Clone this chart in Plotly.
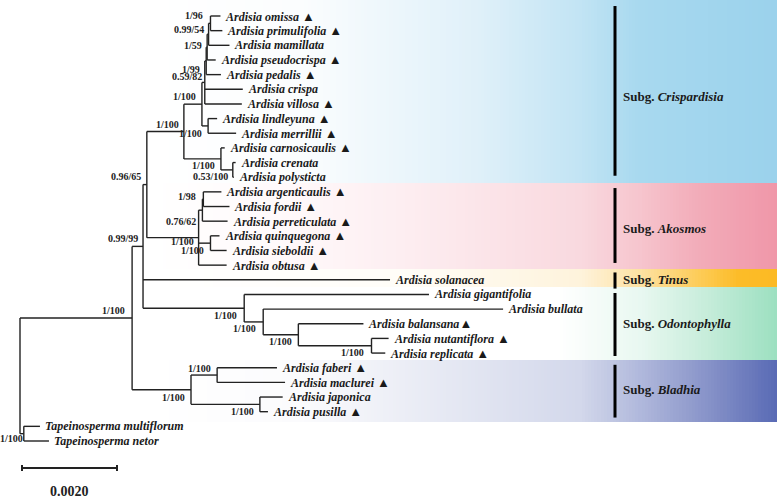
import numpy as np
import plotly.graph_objects as go

# Tips, top to bottom
tip_names = [
    "Ardisia omissa", "Ardisia primulifolia", "Ardisia mamillata", "Ardisia pseudocrispa",
    "Ardisia pedalis", "Ardisia crispa", "Ardisia villosa", "Ardisia lindleyuna",
    "Ardisia merrillii", "Ardisia carnosicaulis", "Ardisia crenata", "Ardisia polysticta",
    "Ardisia argenticaulis", "Ardisia fordii", "Ardisia perreticulata", "Ardisia quinquegona",
    "Ardisia sieboldii", "Ardisia obtusa", "Ardisia solanacea", "Ardisia gigantifolia",
    "Ardisia bullata", "Ardisia balansana", "Ardisia nutantiflora", "Ardisia replicata",
    "Ardisia faberi", "Ardisia maclurei", "Ardisia japonica", "Ardisia pusilla",
    "Tapeinosperma multiflorum", "Tapeinosperma netor",
]
tip_marked = [1, 1, 0, 1, 1, 0, 1, 1, 1, 1, 0, 0, 1, 1, 1, 1, 1, 1, 0, 0, 0, 1, 1, 1, 1, 1, 0, 1, 0, 0]

# Tree edges: child, parent, branch length (substitutions/site)
edge_child = ["tap", "multiflorum", "netor", "ard", "A", "C", "crisp", "D", "E", "M", "N3", "N2", "N1",
              "omissa", "primulifolia", "mamillata", "pseudocrispa", "pedalis", "crispa", "villosa",
              "F", "lindleyuna", "merrillii", "G", "carnosicaulis", "H", "crenata", "polysticta",
              "K", "Q", "P", "argenticaulis", "fordii", "perreticulata", "R", "quinquegona", "sieboldii",
              "obtusa", "solanacea", "O", "gigantifolia", "S", "bullata", "T", "balansana", "U",
              "nutantiflora", "replicata", "B", "V", "faberi", "maclurei", "W", "japonica", "pusilla"]
edge_parent = ["root", "tap", "tap", "root", "ard", "A", "C", "crisp", "D", "E", "M", "N3", "N2",
               "N1", "N1", "N2", "N3", "M", "E", "E",
               "D", "F", "F", "crisp", "G", "G", "H", "H",
               "C", "K", "Q", "P", "P", "Q", "K", "R", "R",
               "K", "A", "A", "O", "O", "S", "S", "T", "T",
               "U", "U", "ard", "B", "V", "V", "B", "W", "W"]
edge_length = [0.00008, 0.00034, 0.00053, 0.00236, 0.00023, 0.00008, 0.00078, 0.00038, 0.00006, 0.00003,
               0.00002, 0.00003, 0.00004, 0.00021, 0.00025, 0.00044, 0.00018, 0.00031, 0.00080, 0.00078,
               0.00013, 0.00019, 0.00059, 0.00078, 0.00008, 0.00025, 0.00006, 0.00002,
               0.00109, 0.00008, 0.00002, 0.00038, 0.00055, 0.00053, 0.00025, 0.00019, 0.00034,
               0.00059, 0.00520, 0.00213, 0.00389, 0.00040, 0.00505, 0.00074, 0.00137, 0.00154,
               0.00036, 0.00029, 0.00124, 0.00055, 0.00126, 0.00143, 0.00145, 0.00048, 0.00017]

# Support values (posterior / bootstrap)
support_node = ["N1", "N2", "N3", "M", "E", "crisp", "D", "F", "G", "H", "C", "A", "ard", "tap",
                "P", "Q", "K", "R", "O", "S", "T", "U", "B", "V", "W"]
support_text = ["1/96", "0.99/54", "1/59", "1/99", "0.59/82", "1/100", "1/100", "1/100", "1/100",
                "0.53/100", "0.96/65", "0.99/99", "1/100", "1/100", "1/98", "0.76/62", "1/100",
                "1/100", "1/100", "1/100", "1/100", "1/100", "1/100", "1/100", "1/100"]

clade_names = ["Crispardisia", "Akosmos", "Tinus", "Odontophylla", "Bladhia"]
clade_first = [0, 12, 18, 19, 24]
clade_last = [11, 17, 18, 23, 27]
scale_length = 0.0020

# ---- layout helpers (pixel <-> data)
PX = 0.0020 / 95.0      # substitutions per screen pixel
ROW = 14.655            # pixels per tip row
def px_x(p):
    return (p - 20) * PX
def px_y(p):
    return (p - 16) / ROW

# ---- compute node positions
children = {}
for c, p in zip(edge_child, edge_parent):
    children.setdefault(p, []).append(c)
blen = dict(zip(edge_child, edge_length))

depth = {"root": 0.0}
def set_depth(n):
    for c in children.get(n, []):
        depth[c] = depth[n] + blen[c]
        set_depth(c)
set_depth("root")

tip_ids = [n.split()[-1] for n in tip_names]
ypos = {t: i for i, t in enumerate(tip_ids)}
def set_y(n):
    if n in ypos:
        return ypos[n]
    ys = [set_y(c) for c in children[n]]
    ypos[n] = (min(ys) + max(ys)) / 2
    return ypos[n]
set_y("root")

fig = go.Figure()

# ---- background gradient bands
band_y = [(px_y(0), px_y(183)), (px_y(183), px_y(269)), (px_y(269), px_y(287)),
          (px_y(287), px_y(360)), (px_y(360), px_y(422))]
band_scales = [
    [[0, "#ffffff"], [0.24, "#fbfdfe"], [0.526, "#dff0f9"], [0.686, "#c2e4f4"], [0.78, "#a8d9ef"], [1, "#9bd2ec"]],
    [[0, "#ffffff"], [0.2, "#fffafb"], [0.4, "#fdeef1"], [0.686, "#f9d9df"], [0.781, "#f6c5ce"],
     [0.877, "#f2acb9"], [1, "#f097a9"]],
    [[0, "#ffffff"], [0.4, "#fffdf8"], [0.686, "#fef3dc"], [0.781, "#fde2a4"], [0.877, "#fdcc58"],
     [0.941, "#fcbc28"], [1, "#fcba24"]],
    [[0, "#ffffff"], [0.65, "#ffffff"], [0.781, "#e9f8f1"], [0.877, "#cbeedd"], [1, "#9de0c1"]],
    [[0, "#ffffff"], [0.24, "#fbfbfd"], [0.4, "#eceef6"], [0.686, "#d3d8eb"], [0.781, "#b1b9dc"],
     [0.877, "#8d98cb"], [1, "#5a6bb5"]],
]
xe = np.linspace(px_x(150), px_x(777), 200)
zrow = np.linspace(0, 1, 199)[None, :]
for (y0, y1), cs in zip(band_y, band_scales):
    fig.add_trace(go.Heatmap(x=xe, y=[y0, y1], z=zrow, colorscale=cs, zmin=0, zmax=1,
                             showscale=False, hoverinfo="skip"))

# ---- tree branches
lx, ly = [], []
for c, p in zip(edge_child, edge_parent):
    lx += [depth[p], depth[c], None]
    ly += [ypos[c], ypos[c], None]
for n, ch in children.items():
    ys = [ypos[c] for c in ch]
    lx += [depth[n], depth[n], None]
    ly += [min(ys), max(ys), None]
fig.add_trace(go.Scatter(x=lx, y=ly, mode="lines", line=dict(color="#222222", width=1.4),
                         hoverinfo="skip", showlegend=False))

# ---- tip labels
for t, name, mk in zip(tip_ids, tip_names, tip_marked):
    txt = "<b><i>%s</i></b>" % name
    if mk:
        sep = "" if t == "balansana" else " "
        txt += sep + "<span style='font-size:13px'>▲</span>"
    fig.add_annotation(x=depth[t], y=ypos[t], text=txt, showarrow=False, xanchor="left",
                       yanchor="middle", xshift=3, font=dict(family="Liberation Serif", size=12,
                                                             color="#1a1a1a"))

# ---- support labels (offset in pixels from node)
support_offset = {"N1": (-5, -7.5), "N2": (-3, -5), "N3": (-3.5, -2), "M": (-4.5, 9), "E": (-1, -5.5),
                  "crisp": (-3, -7.5), "D": (-4, -8), "F": (-4, 8), "G": (-4, 7), "H": (-3, 7),
                  "C": (-4, -8), "A": (-3, -8), "ard": (-5, -7.5), "tap": (1, 4.5),
                  "P": (-5, -2.5), "Q": (-4, 11), "K": (-3, 3.5), "R": (-4, 7.5), "O": (-5, 7),
                  "S": (-5, 6.5), "T": (-4, 7), "U": (-6, 6.5), "B": (-4, 8), "V": (-4, -6.5),
                  "W": (-4, 7.5)}
for n, s in zip(support_node, support_text):
    dx, dy = support_offset[n]
    fig.add_annotation(x=depth[n], y=ypos[n], text="<b>%s</b>" % s, showarrow=False,
                       xanchor="right", yanchor="middle", xshift=dx, yshift=-dy,
                       font=dict(family="Liberation Serif", size=10, color="#222222"))

# ---- subgenus bars and labels
bar_rows = [(-0.68, 10.9), (11.74, 16.85), (17.5, 18.6), (18.9, 23.2), (23.8, 27.4)]
for name, f, l, (b0, b1) in zip(clade_names, clade_first, clade_last, bar_rows):
    fig.add_shape(type="line", x0=px_x(615), x1=px_x(615), y0=b0, y1=b1,
                  line=dict(color="black", width=3))
    fig.add_annotation(x=px_x(621), y=(f + l) / 2, text="<b>Subg. <i>%s</i></b>" % name,
                       showarrow=False, xanchor="left", yanchor="middle",
                       font=dict(family="Liberation Serif", size=13, color="#1a1a1a"))

# ---- scale bar
sx0 = px_x(22)
sy = px_y(468)
tk = 3 / ROW
fig.add_trace(go.Scatter(x=[sx0, sx0 + scale_length, None, sx0, sx0, None,
                            sx0 + scale_length, sx0 + scale_length],
                         y=[sy, sy, None, sy - tk, sy + tk, None, sy - tk, sy + tk],
                         mode="lines", line=dict(color="#222222", width=2),
                         hoverinfo="skip", showlegend=False))
fig.add_annotation(x=sx0 + scale_length / 2, y=px_y(491), text="<b>%.4f</b>" % scale_length,
                   showarrow=False, font=dict(family="Liberation Serif", size=14, color="#222222"))

fig.update_layout(width=777, height=499, margin=dict(l=0, r=0, t=0, b=0),
                  plot_bgcolor="white", paper_bgcolor="white", showlegend=False,
                  xaxis=dict(visible=False, range=[px_x(0), px_x(777)]),
                  yaxis=dict(visible=False, range=[px_y(499), px_y(0)]))
fig.write_html("out.html", config={"displayModeBar": False},
               post_script="document.body.style.margin='0';")
